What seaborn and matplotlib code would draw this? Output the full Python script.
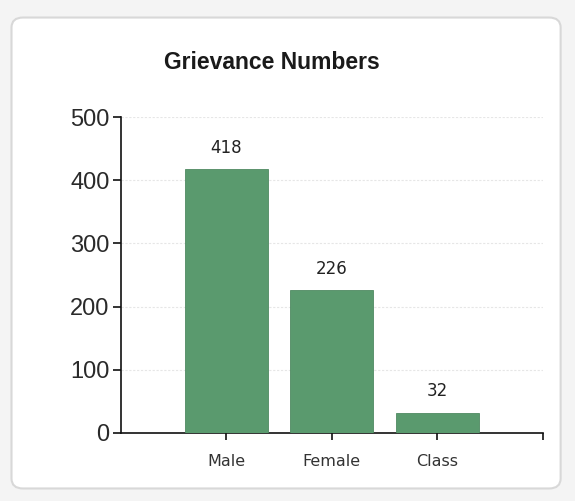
import matplotlib
matplotlib.use('Agg')
import matplotlib.pyplot as plt
from matplotlib.patches import FancyBboxPatch
import seaborn as sns
import pandas as pd

categories = ['Male', 'Female', 'Class']
counts = [418, 226, 32]
y_ticks = [0, 100, 200, 300, 400, 500]

sns.set_style('white')
plt.rcParams['font.family'] = ['Liberation Sans', 'DejaVu Sans']

df = pd.DataFrame({'group': categories, 'count': counts})

fig = plt.figure(figsize=(5.75, 5.01), dpi=100)
fig.patch.set_facecolor('#f4f4f4')
# rounded panel behind the chart
panel = FancyBboxPatch((0.02, 0.025), 0.955, 0.94, boxstyle='round,pad=0,rounding_size=0.02',
                       transform=fig.transFigure, facecolor='white', edgecolor='#d8d8d8',
                       linewidth=1.5, zorder=-10)
fig.add_artist(panel)

ax = fig.add_axes([0.21, 0.136, 0.734, 0.63])
ax.set_zorder(5)
ax.set_facecolor('none')
sns.barplot(data=df, x='group', y='count', color='#5a9a6e', saturation=1, width=0.79,
            edgecolor='#4f8a62', linewidth=0.6, ax=ax, zorder=3)

ax.set_xlim(-1, 3)
ax.set_ylim(0, 500)
ax.set_yticks(y_ticks)
ax.set_xticks([3], minor=True)
ax.yaxis.grid(True, color='#e6e6e6', linestyle=(0, (2, 1.5)), linewidth=0.8, zorder=0)
ax.set_axisbelow(True)

for i, v in enumerate(counts):
    ax.text(i, v + 34, str(v), ha='center', va='center', fontsize=12,
            family='DejaVu Sans', color='#222222')

ax.set_xlabel('')
ax.set_ylabel('')
fig.text(0.473, 0.875, 'Grievance Numbers', ha='center', va='center',
         fontsize=16.5, fontweight='bold', color='#1a1a1a')

for side in ['top', 'right']:
    ax.spines[side].set_visible(False)
for side in ['left', 'bottom']:
    ax.spines[side].set_color('#111111')
    ax.spines[side].set_linewidth(1.2)

ax.tick_params(axis='y', which='major', direction='out', length=6, width=1.2,
               labelsize=17, colors='#111111', left=True, pad=2)
ax.tick_params(axis='x', which='both', direction='out', length=5, width=1.2,
               labelsize=11.5, colors='#111111', bottom=True, pad=10)
for lbl in ax.get_yticklabels():
    lbl.set_color('#2a2a2a')
for lbl in ax.get_xticklabels():
    lbl.set_family('DejaVu Sans')
    lbl.set_color('#333333')

fig.savefig('out.png', dpi=100)
